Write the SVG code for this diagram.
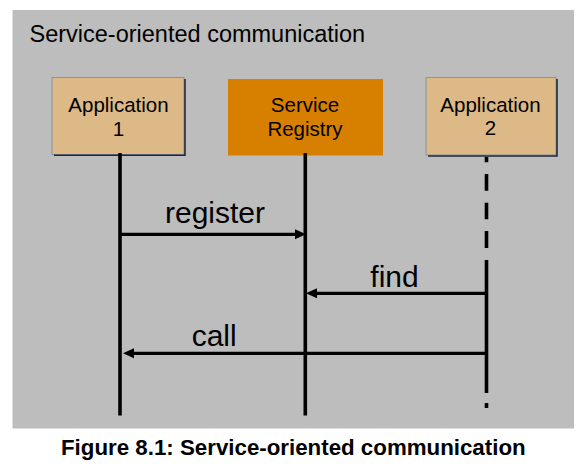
<svg xmlns="http://www.w3.org/2000/svg" width="588" height="470" viewBox="0 0 588 470">
  <style>
    .t { font-family: "Liberation Sans", Arial, sans-serif; fill: #000; }
    .box { fill: #DDB987; stroke: #8493A5; stroke-width: 1; }
    .shadow { fill: none; stroke: #1E2A38; stroke-width: 1.6; }
    .life { stroke: #000; stroke-width: 3.6; fill: none; }
    .msg { stroke: #000; stroke-width: 3.2; fill: none; marker-end: url(#ah); }
    .lbl { font-size: 20.5px; text-anchor: middle; }
    .mlbl { font-size: 30px; text-anchor: middle; }
  </style>
  <defs>
    <marker id="ah" markerUnits="userSpaceOnUse" markerWidth="12" markerHeight="11" refX="0" refY="5" orient="auto" overflow="visible">
      <path d="M0,0 L11,5 L0,10 Z" fill="#000"/>
    </marker>
  </defs>
  <rect width="588" height="470" fill="#FFFFFF"/>
  <rect x="12.5" y="10" width="561.5" height="418.5" fill="#BDBDBD"/>
  <text class="t" x="29.5" y="42" font-size="23.5">Service-oriented communication</text>

  <g id="app1">
    <rect class="box" x="52" y="77.5" width="132" height="77"/>
    <polyline class="shadow" points="54,155.3 185,155.3 185,79"/>
    <text class="t lbl" x="118.5" y="111.5">Application</text>
    <text class="t lbl" x="118.5" y="135.5">1</text>
  </g>
  <g id="registry">
    <rect x="228" y="79" width="155" height="76.5" fill="#D78000"/>
    <text class="t lbl" x="305" y="112.3">Service</text>
    <text class="t lbl" x="305" y="135.5">Registry</text>
  </g>
  <g id="app2">
    <rect class="box" x="426" y="77.5" width="130" height="77.5"/>
    <polyline class="shadow" points="428,156 557,156 557,79"/>
    <text class="t lbl" x="490.5" y="111.5">Application</text>
    <text class="t lbl" x="490.5" y="135">2</text>
  </g>

  <g id="connectors">
    <line class="life" x1="120" y1="153" x2="120" y2="415.5"/>
    <line class="life" x1="305.3" y1="153" x2="305.3" y2="415.5"/>
    <path class="life" d="M486.5,157 V162.3 M486.5,174 V190.7 M486.5,202.7 V219.3 M486.5,231 V248 M486.5,260 V393 M486.5,403 V408"/>
    <line class="msg" x1="120" y1="234.3" x2="295" y2="234.3"/>
    <line class="msg" x1="486.5" y1="293.3" x2="317" y2="293.3"/>
    <line class="msg" x1="486.5" y1="353.3" x2="134" y2="353.3"/>
    <text class="t mlbl" x="215" y="223.3">register</text>
    <text class="t mlbl" x="394.5" y="286.7">find</text>
    <text class="t mlbl" x="214.2" y="345.7">call</text>
  </g>

  <text class="t" x="61" y="455" font-size="22.3" font-weight="bold">Figure 8.1: Service-oriented communication</text>
</svg>
